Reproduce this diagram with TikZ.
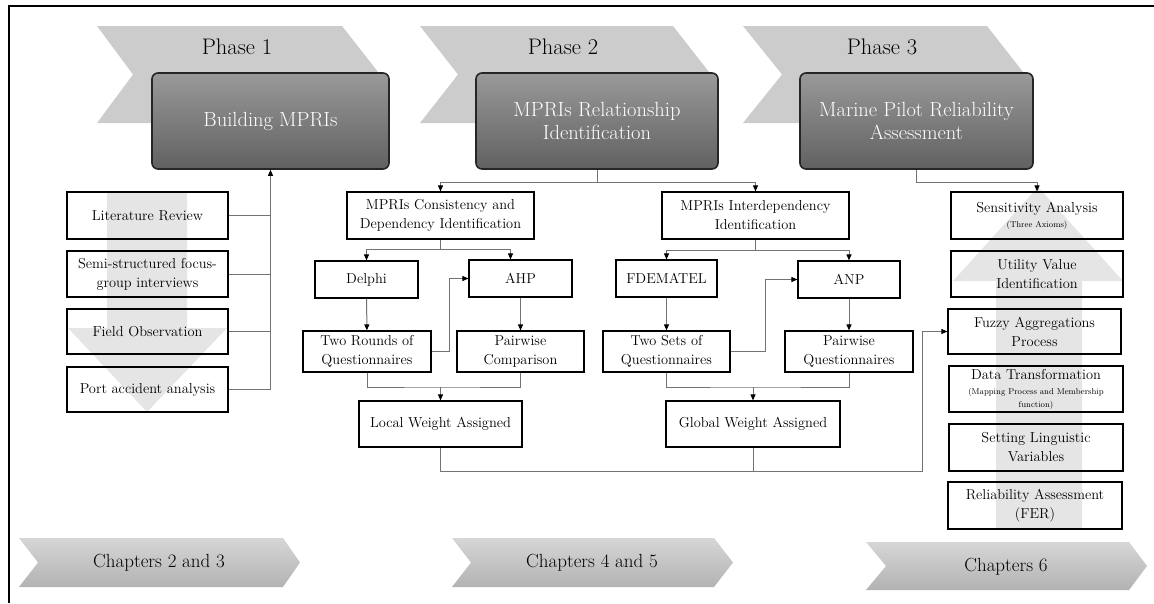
\documentclass[tikz,border=0pt]{standalone}
\usetikzlibrary{arrows.meta}

\newcommand{\smallnote}{\fontsize{8.5}{10}\selectfont}

\tikzset{
  stepbox/.style={draw, line width=1.2pt, minimum width=#1, minimum height=46pt,
    align=center, inner sep=1pt, font=\fontsize{14.4}{19}\selectfont},
  stepbox/.default=172pt,
  phasebox/.style={draw=black!85, line width=1.6pt, rounded corners=6pt,
    top color=black!40, bottom color=black!62, minimum width=#1, minimum height=96pt,
    align=center, text=white, font=\fontsize{20.5}{23}\selectfont},
  banner/.style={fill=black!20},
  chapter/.style={top color=black!16, bottom color=black!30},
  bigarrow/.style={fill=black!10},
  link/.style={draw=black!55, line width=1pt},
  arr/.style={link, -{Triangle[length=6pt, width=5pt, color=black]}}
}

\begin{document}
\begin{tikzpicture}[x=1pt, y=-1pt]
  \useasboundingbox (0,0) rectangle (1154,603);

  % frame
  \draw[line width=1.6pt] (9,603) -- (9,6) -- (1154,6);

  % phase banners
  \path[banner] (97,26) -- (342,26) -- (380,74.5) -- (342,123) -- (97,123) -- (133,74.5) -- cycle;
  \path[banner] (420,26) -- (673,26) -- (711,74.5) -- (673,123) -- (420,123) -- (458,74.5) -- cycle;
  \path[banner] (743,26) -- (987,26) -- (1025,74.5) -- (987,123) -- (743,123) -- (782,74.5) -- cycle;
  \node[font=\fontsize{22.5}{24}\selectfont] (ph1) at (237,47) {Phase 1};
  \node[font=\fontsize{22.5}{24}\selectfont] (ph2) at (563,47) {Phase 2};
  \node[font=\fontsize{22.5}{24}\selectfont] (ph3) at (882,47) {Phase 3};

  % chapter banners
  \path[chapter] (19,538) -- (283,538) -- (300,562.5) -- (283,587) -- (19,587) -- (38,562.5) -- cycle;
  \path[chapter] (452,538) -- (714,538) -- (733,562.5) -- (714,587) -- (452,587) -- (471,562.5) -- cycle;
  \path[chapter] (866,542) -- (1129,542) -- (1147,566) -- (1129,590) -- (866,590) -- (886,566) -- cycle;
  \node[font=\fontsize{19}{22}\selectfont] (ch1) at (159,563) {Chapters 2 and 3};
  \node[font=\fontsize{19}{22}\selectfont] (ch2) at (592,563) {Chapters 4 and 5};
  \node[font=\fontsize{19}{22}\selectfont] (ch3) at (1006,567) {Chapters 6};

  % background arrows
  \path[bigarrow] (107,192) -- (187,192) -- (187,328) -- (227,328) -- (147,412) -- (68,328) -- (107,328) -- cycle;
  \path[bigarrow] (996,529) -- (1082,529) -- (1082,281) -- (1123,281) -- (1038,187) -- (953,281) -- (996,281) -- cycle;

  % phase boxes
  \node[phasebox=237pt] (build) at (270.5,121) {Building MPRIs};
  \node[phasebox=242pt] (relat) at (597,121) {MPRIs Relationship\\Identification};
  \node[phasebox=233pt] (marine) at (916.5,121) {Marine Pilot Reliability\\Assessment};

  % phase 1
  \node[stepbox=161pt, minimum height=47pt] (lit) at (147.5,215.5) {Literature Review};
  \node[stepbox=161pt] (semi) at (147.5,274) {Semi-structured focus-\\group interviews};
  \node[stepbox=161pt, minimum height=45pt] (field) at (147.5,331.5) {Field Observation};
  \node[stepbox=161pt, minimum height=45pt] (port) at (147.5,389.5) {Port accident analysis};

  % phase 2
  \node[stepbox=187pt, minimum height=47pt] (cons) at (440.5,215.5) {MPRIs Consistency and\\Dependency Identification};
  \node[stepbox=187pt, minimum height=47pt] (inter) at (755.5,215.5) {MPRIs Interdependency\\Identification};
  \node[stepbox=103pt, minimum height=37pt] (delphi) at (366.5,279.5) {Delphi};
  \node[stepbox=103pt, minimum height=37pt] (ahp) at (520.5,278.5) {AHP};
  \node[stepbox=101pt, minimum height=37pt] (fdem) at (666.5,278.5) {FDEMATEL};
  \node[stepbox=102pt, minimum height=37pt] (anp) at (849,279.5) {ANP};
  \node[stepbox=128pt, minimum height=41pt] (rounds) at (367,351.5) {Two Rounds of\\Questionnaires};
  \node[stepbox=127pt, minimum height=41pt] (pairc) at (520.5,351.5) {Pairwise\\Comparison};
  \node[stepbox=127pt, minimum height=41pt] (sets) at (666.5,351.5) {Two Sets of\\Questionnaires};
  \node[stepbox=128pt, minimum height=41pt] (pairq) at (849,351.5) {Pairwise\\Questionnaires};
  \node[stepbox=163pt] (local) at (440.5,424) {Local Weight Assigned};
  \node[stepbox=174pt] (global) at (753,424) {Global Weight Assigned};

  % phase 3
  \node[stepbox=172pt, minimum height=47pt] (sens) at (1037,215.5) {Sensitivity Analysis\\[-4pt]{\smallnote (Three Axioms)}};
  \node[stepbox=172pt] (util) at (1037,274) {Utility Value\\Identification};
  \node[stepbox=173pt, minimum height=45pt] (fuzzy) at (1034.5,331.5) {Fuzzy Aggregations\\Process};
  \node[stepbox=174pt] (datat) at (1036,389) {Data Transformation\\[-4pt]{\smallnote (Mapping Process and Membership}\\[-6pt]{\smallnote function)}};
  \node[stepbox=174pt, minimum height=47pt] (ling) at (1036,447.5) {Setting Linguistic\\Variables};
  \node[stepbox=174pt, minimum height=47pt] (fer) at (1035,505.5) {Reliability Assessment\\(FER)};

  % phase 1 links
  \draw[arr] (port.east) -| (build.south);
  \draw[link] (lit.east) -- (lit.east -| build.south);
  \draw[link] (semi.east) -- (semi.east -| build.south);
  \draw[link] (field.east) -- (field.east -| build.south);

  % phase 2 links
  \coordinate (relfork) at (597,182);
  \draw[link] (relat.south) -- (relfork);
  \draw[arr] (relfork) -| (cons.north);
  \draw[arr] (relfork) -| (inter.north);

  \coordinate (consfork) at (440.5,249);
  \draw[link] (cons.south) -- (consfork);
  \draw[arr] (consfork) -| (delphi.north);
  \draw[arr] (consfork) -| ([xshift=-10pt]ahp.north);
  \draw[arr] (delphi) -- (rounds);
  \draw[arr] (ahp) -- (pairc);
  \draw[arr] (rounds.east) -- ++(18,0) |- (ahp.west);
  \coordinate (localfork) at (440.5,387);
  \draw[link] (rounds.south) |- (localfork) -| (pairc.south);
  \draw[arr] (localfork) -- (local.north);

  \coordinate (interfork) at (755.5,250);
  \draw[link] (inter.south) -- (interfork);
  \draw[arr] (interfork) -| (fdem.north);
  \draw[arr] (interfork) -| (anp.north);
  \draw[arr] (fdem) -- (sets);
  \draw[arr] (anp) -- (pairq);
  \draw[arr] (sets.east) -- ++(35,0) |- (anp.west);
  \coordinate (globalfork) at (753,387);
  \draw[link] (sets.south) |- (globalfork) -| (pairq.south);
  \draw[arr] (globalfork) -- (global.north);

  % weights into phase 3
  \coordinate (weightbend) at (922,471);
  \draw[arr] (local.south) |- (weightbend) |- (fuzzy.west);
  \draw[link] (global.south) -- (global.south |- weightbend);

  % phase 3 link
  \draw[arr] (marine.south) |- (1037,182) -- (sens.north);
\end{tikzpicture}
\end{document}
